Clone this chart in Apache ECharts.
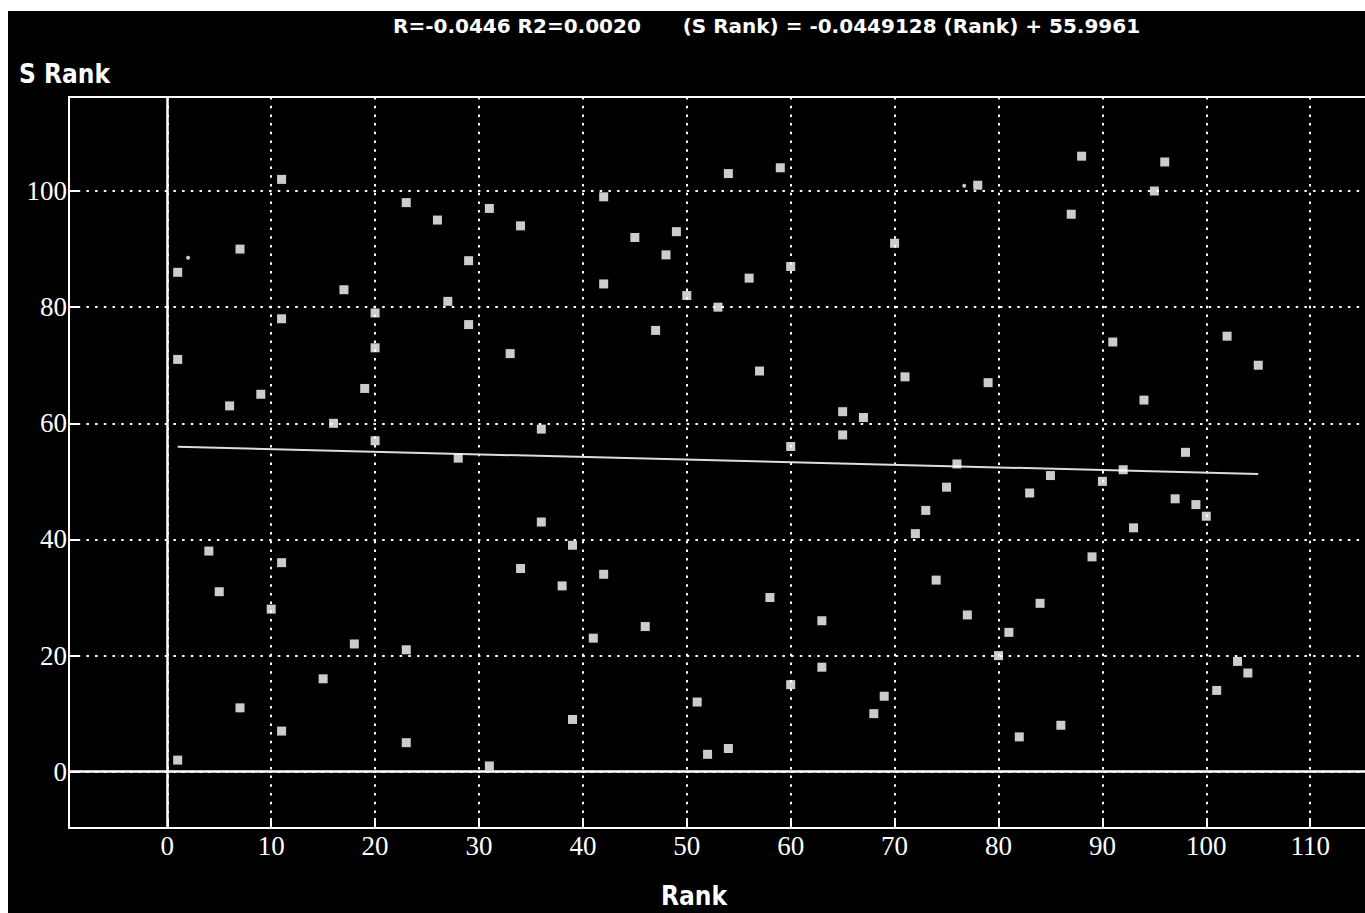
<!DOCTYPE html>
<html><head><meta charset="utf-8">
<script src="https://cdn.jsdelivr.net/npm/echarts@6/dist/echarts.min.js"></script>
<style>
html,body{margin:0;padding:0;background:#fff;width:1365px;height:913px;overflow:hidden}
#chart{position:absolute;left:8px;top:11px;width:1357px;height:902px;background:#000}
</style></head><body><div id="chart"></div>
<script>
// ---- data ----
const rank = [1,1,1,4,5,6,7,7,9,10,11,11,11,11,15,16,17,18,19,20,20,20,23,23,23,26,27,28,29,29,31,31,33,34,34,36,36,38,39,39,41,42,42,42,45,46,47,48,49,50,51,52,53,54,54,56,57,58,59,60,60,60,63,63,65,65,67,68,69,70,71,72,73,74,75,76,77,78,79,80,81,82,83,84,85,86,87,88,89,90,91,92,93,94,95,96,97,98,99,100,101,102,103,104,105];
const sRank = [86,71,2,38,31,63,90,11,65,28,102,78,36,7,16,60,83,22,66,79,73,57,98,21,5,95,81,54,88,77,97,1,72,94,35,59,43,32,39,9,23,99,84,34,92,25,76,89,93,82,12,3,80,103,4,85,69,30,104,87,56,15,26,18,62,58,61,10,13,91,68,41,45,33,49,53,27,101,67,20,24,6,48,29,51,8,96,106,37,50,74,52,42,64,100,105,47,55,46,44,14,75,19,17,70];
const extraRank = [2, 76.7];
const extraS = [88.5, 100.9];
const fitSlope = -0.0449128;
const fitIntercept = 55.9961;
const fitRange = [1, 105];
const xTickLabels = [0,10,20,30,40,50,60,70,80,90,100,110];
const yTickLabels = [0,20,40,60,80,100];
const titleText = 'R=-0.0446 R2=0.0020      (S Rank) = -0.0449128 (Rank) + 55.9961';
const xName = 'Rank';
const yName = 'S Rank';

// ---- chart ----
const chart = echarts.init(document.getElementById('chart'), null, {renderer: 'svg'});
const pts = rank.map((r, i) => [r, sRank[i]]);
const extraPts = extraRank.map((r, i) => [r, extraS[i]]);
const fitPts = fitRange.map(x => [x, fitSlope * x + fitIntercept]);
const labelFont = 'Liberation Serif';
const headFont = 'DejaVu Sans Condensed';
const dots = [2.5, 6.2];

chart.setOption({
  animation: false,
  backgroundColor: '#000',
  title: {
    text: titleText, left: 385, top: 5, padding: 0,
    textStyle: {color: '#fff', fontFamily: 'DejaVu Sans', fontWeight: 'bold', fontSize: 20}
  },
  grid: {left: 61, top: 86, width: 1297, bottom: 85, show: true, borderColor: '#fff', borderWidth: 2,
    backgroundColor: 'transparent', outerBoundsMode: 'none', containLabel: false},
  xAxis: {
    type: 'value', min: -9.46, max: 115.37, splitNumber: 12,
    name: xName, nameLocation: 'middle', nameGap: 55,
    nameTextStyle: {color: '#fff', fontFamily: headFont, fontWeight: 'bold', fontSize: 26, padding: [0, 47, 0, 0]},
    axisLine: {show: false, onZero: false},
    axisTick: {show: true, inside: true, length: 10, lineStyle: {color: '#fff', width: 2}},
    axisLabel: {color: '#fff', fontFamily: labelFont, fontSize: 27, margin: 4,
      formatter: v => xTickLabels.includes(v) ? String(v) : ''},
    splitLine: {show: true, lineStyle: {color: '#fff', width: 2, type: dots}}
  },
  yAxis: {
    type: 'value', min: -9.69, max: 116.19, splitNumber: 6,
    name: yName, nameLocation: 'end', nameGap: 10,
    nameTextStyle: {color: '#fff', fontFamily: headFont, fontWeight: 'bold', fontSize: 26, align: 'center', padding: [0, 9, 0, 0]},
    axisLine: {show: false, onZero: false},
    axisTick: {show: true, inside: true, length: 10, lineStyle: {color: '#fff', width: 2}},
    axisLabel: {color: '#fff', fontFamily: labelFont, fontSize: 27, margin: 2,
      formatter: v => yTickLabels.includes(v) ? String(v) : ''},
    splitLine: {show: true, lineStyle: {color: '#fff', width: 2, type: dots}}
  },
  series: [
    {
      type: 'scatter', name: 'S Rank', data: pts, symbol: 'rect', symbolSize: 9,
      itemStyle: {color: '#fff'}, z: 5,
      markLine: {
        silent: true, symbol: 'none', label: {show: false},
        lineStyle: {color: '#fff', width: 2.5, type: 'solid'},
        data: [{xAxis: 0}, {yAxis: 0}]
      }
    },
    {type: 'scatter', name: 'other', data: extraPts, symbol: 'circle', symbolSize: 4, itemStyle: {color: '#fff'}, z: 5},
    {type: 'line', name: 'fit', data: fitPts, showSymbol: false, lineStyle: {color: '#ddd', width: 2}, z: 4}
  ]
});
</script></body></html>
